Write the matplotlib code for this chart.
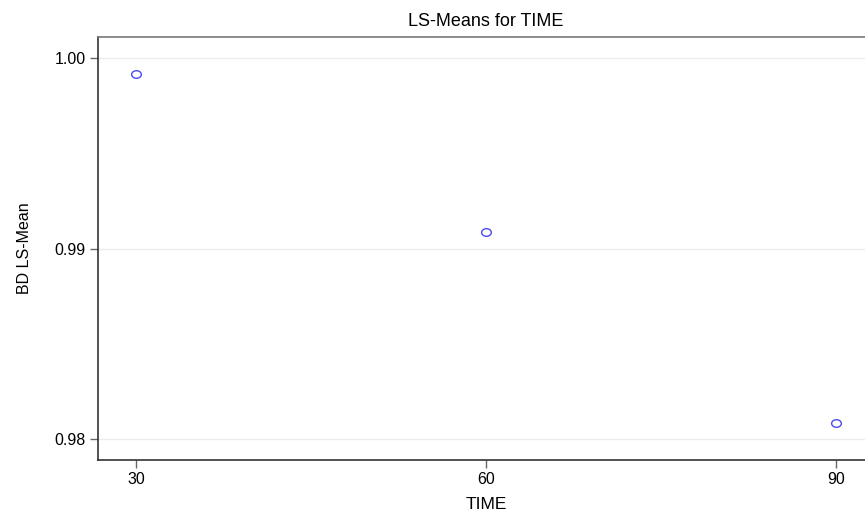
import matplotlib
matplotlib.use("Agg")
import matplotlib.pyplot as plt
from matplotlib.path import Path
from matplotlib.transforms import Affine2D

# LS-Means
time_points = [30, 60, 90]
ls_means = [0.99916, 0.99087, 0.98086]
y_ticks = [0.98, 0.99, 1.00]
y_tick_labels = ["0.98", "0.99", "1.00"]

plt.rcParams["font.family"] = ["Liberation Sans", "DejaVu Sans"]

fig = plt.figure(figsize=(8.65, 5.16), dpi=100)
# axes run a little past the right edge of the picture, as in the original
ax = fig.add_axes([98 / 865, 56 / 516, (874 - 98) / 865, (460 - 37) / 516])

# slightly flattened open circle
ellipse = Path.unit_circle().transformed(Affine2D().scale(1.0, 0.78))
ax.plot(time_points, ls_means, linestyle="none", marker=ellipse,
        markersize=7, markerfacecolor="none", markeredgecolor="#4a4af0",
        markeredgewidth=1.0)

ax.set_xlim(26.74, 93.26)
ax.set_ylim(0.97890, 1.00110)
ax.set_xticks(time_points)
ax.set_yticks(y_ticks)
ax.set_yticklabels(y_tick_labels)

ax.grid(axis="y", color="#ececec", linewidth=1)
ax.set_axisbelow(True)

ax.spines["right"].set_visible(False)
ax.spines["top"].set_color("#777777")
ax.spines["left"].set_color("#333333")
ax.spines["bottom"].set_color("#333333")
for s in ("top", "left", "bottom"):
    ax.spines[s].set_linewidth(1.2)

ax.tick_params(direction="out", length=6, width=1, color="#666666",
               labelsize=11.5, pad=3)

ax.set_title("LS-Means for TIME", fontsize=13, pad=8)
ax.set_xlabel("TIME", fontsize=12.5, labelpad=7)
ax.set_ylabel("BD LS-Mean", fontsize=11.5, labelpad=16)

fig.savefig("out.png", dpi=100)
